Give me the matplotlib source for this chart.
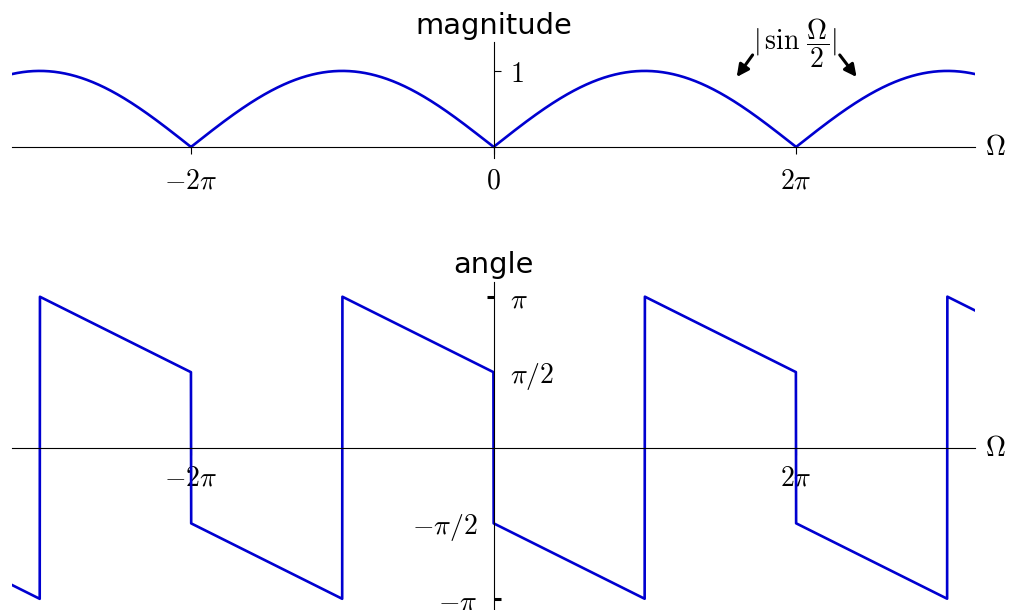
import numpy as np
import matplotlib
matplotlib.use('Agg')
import matplotlib.pyplot as plt

plt.rcParams['mathtext.fontset'] = 'cm'
plt.rcParams['font.size'] = 20

# Frequency axis and the two curves: |sin(W/2)| and the phase of e^{-jW} - 1
omega = np.linspace(-10, 10, 4000)
magnitude = np.abs(np.sin(omega / 2))
angle = np.angle(np.exp(-1j * omega) - 1)

# Ticks and labels
mag_xticks = [-2 * np.pi, 0, 2 * np.pi]
mag_xlabels = [r'$-2\pi$', r'$0$', r'$2\pi$']
mag_yticks = [1]
mag_ylabels = [r'$1$']
ang_xticks = [-2 * np.pi, 2 * np.pi]
ang_xlabels = [r'$-2\pi$', r'$2\pi$']
ang_yticks = [np.pi, np.pi / 2, -np.pi / 2, -np.pi]
ang_ylabels = [r'$\pi$', r'$\pi/2$', r'$-\pi/2$', r'$-\pi$']

blue = '#0000d0'

fig = plt.figure(figsize=(10.1, 6.1), dpi=100)
ax1 = fig.add_axes([0.0119, 0.7416, 0.9535, 0.1895])
ax2 = fig.add_axes([0.0119, -0.0060, 0.9535, 0.5440])


def center_axes(ax):
    ax.spines['left'].set_position('zero')
    ax.spines['bottom'].set_position('zero')
    ax.spines['right'].set_position('zero')
    ax.spines['right'].set_visible(False)
    ax.spines['top'].set_visible(False)
    ax.set_xlim(-10, 10)
    ax.annotate(r'$\Omega$', xy=(1, 0), xycoords=('axes fraction', 'data'),
                xytext=(7, 0), textcoords='offset points', ha='left', va='center')


# MAGNITUDE
ax1.plot(omega, magnitude, color=blue, lw=1.9)
center_axes(ax1)
ax1.set_ylim(-0.14, 1.38)
ax1.set_title('magnitude', fontsize=20.8, pad=6)
ax1.set_xticks(mag_xticks, mag_xlabels)
ax1.set_yticks(mag_yticks, mag_ylabels)
ax1.yaxis.set_ticks_position('right')
ax1.tick_params(axis='y', length=5, pad=6.5)
ax1.tick_params(axis='x', length=5, pad=9)
arrow = dict(arrowstyle='-|>', color='black', lw=2.2, mutation_scale=18, shrinkA=0, shrinkB=0)
ax1.annotate('', xy=(5.05, 0.92), xytext=(5.38, 1.21), arrowprops=arrow)
ax1.annotate('', xy=(7.54, 0.92), xytext=(7.19, 1.21), arrowprops=arrow)
ax1.text(6.25, 1.37, r'$|\,\sin\,\dfrac{\Omega}{2}|$', ha='center', va='center', fontsize=20)

# ANGLE
ax2.plot(omega, angle, color=blue, lw=1.9)
center_axes(ax2)
ax2.set_ylim(-3.45, 3.45)
ax2.set_title('angle', fontsize=20.8, pad=6)
ax2.set_xticks(ang_xticks, ang_xlabels)
ax2.set_yticks(ang_yticks, ang_ylabels)
ax2.yaxis.set_ticks_position('both')
ax2.tick_params(axis='y', labelleft=True, labelright=True, length=5, width=2.2, pad=6.5)
ax2.tick_params(axis='x', length=5, pad=6)
# positive values: tick to the left, label to the right; negative values the other way
for tick, val in zip(ax2.yaxis.get_major_ticks(), ang_yticks):
    if val > 0:
        tick.tick2line.set_visible(False)
        tick.label1.set_visible(False)
    else:
        tick.tick1line.set_visible(False)
        tick.label2.set_visible(False)
    if abs(val) < 2:
        tick.tick1line.set_visible(False)
        tick.tick2line.set_visible(False)

fig.savefig('out.png', dpi=100)
